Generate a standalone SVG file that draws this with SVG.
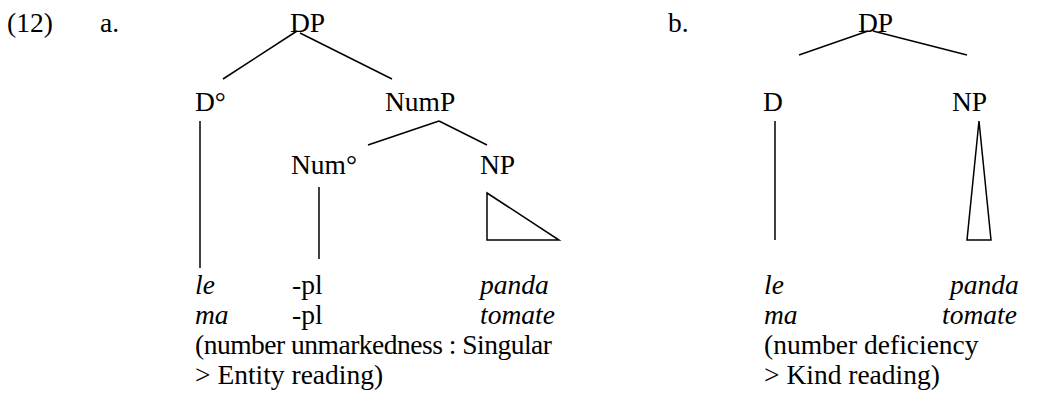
<svg xmlns="http://www.w3.org/2000/svg" width="1040" height="410" viewBox="0 0 1040 410">
<style>
text{font-family:"Liberation Serif","Times New Roman",serif;font-size:27.5px;fill:#000}
.i{font-style:italic}
.e{stroke:#000;stroke-width:1.5;fill:none}
</style>
<rect width="1040" height="410" fill="#fff"/>
<g id="labels">
<text x="7" y="32">(12)</text>
<text x="100" y="32">a.</text>
<text x="668" y="32">b.</text>
</g>
<g id="connectors">
<line class="e" x1="297" y1="31" x2="223" y2="79"/>
<line class="e" x1="300" y1="33" x2="392" y2="79"/>
<line class="e" x1="200" y1="121" x2="200" y2="268"/>
<line class="e" x1="439" y1="121" x2="368" y2="145"/>
<line class="e" x1="439" y1="121" x2="487" y2="145"/>
<line class="e" x1="319" y1="187" x2="319" y2="259"/>
<polygon class="e" points="487,193 487,240 559,240"/>
<line class="e" x1="868" y1="31" x2="799" y2="55"/>
<line class="e" x1="873" y1="31" x2="967" y2="55"/>
<line class="e" x1="775" y1="121" x2="775" y2="240"/>
<polygon class="e" points="979,121 967,240 991,240"/>
</g>
<g id="treeA">
<g id="a-DP"><text x="290" y="32">DP</text></g>
<g id="a-D"><text x="195" y="111">D°</text></g>
<g id="a-NumP"><text x="385" y="111">NumP</text></g>
<g id="a-Num"><text x="291" y="174">Num°</text></g>
<g id="a-NP"><text x="480" y="174">NP</text></g>
<g id="a-leaves">
<text class="i" x="195" y="294">le</text>
<text x="292" y="294">-pl</text>
<text class="i" x="480" y="294">panda</text>
<text class="i" x="195" y="324">ma</text>
<text x="292" y="324">-pl</text>
<text class="i" x="480" y="324">tomate</text>
<text x="195" y="354" textLength="357" lengthAdjust="spacing">(number unmarkedness : Singular</text>
<text x="195" y="384">&gt; Entity reading)</text>
</g>
</g>
<g id="treeB">
<g id="b-DP"><text x="858" y="32">DP</text></g>
<g id="b-D"><text x="763" y="111">D</text></g>
<g id="b-NP"><text x="952" y="111">NP</text></g>
<g id="b-leaves">
<text class="i" x="764" y="294">le</text>
<text class="i" x="950" y="294">panda</text>
<text class="i" x="764" y="324">ma</text>
<text class="i" x="942" y="324">tomate</text>
<text x="764" y="354">(number deficiency</text>
<text x="764" y="384">&gt; Kind reading)</text>
</g>
</g>
</svg>
